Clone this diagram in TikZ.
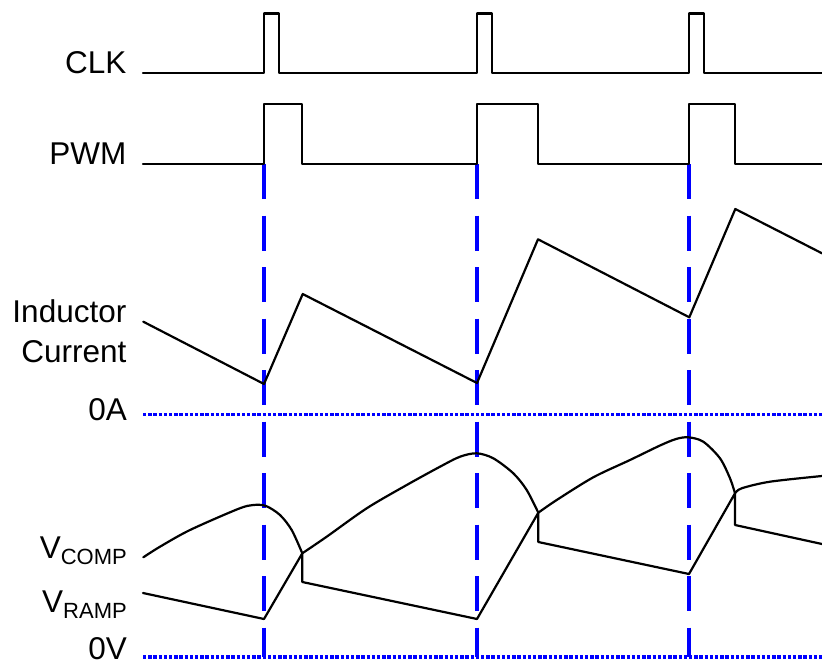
\documentclass[tikz,border=0pt]{standalone}
\usepackage{fontspec}
\setmainfont{Liberation Sans}
\definecolor{pblue}{RGB}{0,0,255}
\tikzset{
  lbl/.style={anchor=base east, inner sep=0pt, font=\fontsize{31.5}{31.5}\selectfont},
  wave/.style={line width=2.2pt, black, line join=round, line cap=round},
  marker/.style={line width=3.4pt, pblue, dash pattern=on 35pt off 16.5pt},
  zeroline/.style={line width=3.4pt, pblue, dash pattern=on 3.4pt off 1.8pt}
}
\newcommand{\subtxt}[1]{\raisebox{-6pt}{\fontsize{22}{22}\selectfont #1}}
\begin{document}
\begin{tikzpicture}[x=1pt,y=-1pt]
\useasboundingbox (0,0) rectangle (822,664);
% labels
\node[lbl] (clk) at (126.5,73) {CLK};
\node[lbl] (pwm) at (126.5,164) {PWM};
\node[lbl] (ind) at (126.5,322) {Inductor};
\node[lbl] (cur) at (126.5,362) {Current};
\node[lbl] (za) at (127,420) {0A};
\node[lbl] (vc) at (127,558) {V\subtxt{COMP}};
\node[lbl] (vr) at (127,612) {V\subtxt{RAMP}};
\node[lbl] (zv) at (127,659.5) {0V};
% blue markers
\foreach \x in {264,477,689} \draw[marker] (\x,164) -- (\x,657);
\draw[zeroline] (143,414.7) -- (822,414.7);
\draw[zeroline] (143,657) -- (822,657);
% CLK
\draw[wave] (143,73) -| (264,13.5) -| (279,73) -| (477,13.5) -| (492,73) -| (689,13.5) -| (704,73) -- (822,73);
% PWM
\draw[wave] (143,164) -| (264,104) -| (302,164) -| (477,104) -| (537.7,164) -| (689,104) -| (735,164) -- (822,164);
% Inductor current
\draw[wave] (143.3,321.7) -- (264,384) -- (302.7,294) -- (477,383) -- (538,239.3) -- (689.3,317.3) -- (735.3,209) -- (822,253.3);
% VRAMP
\draw[wave] (143,593) -- (264,619) -- (302.3,553.3) -- (302.3,582) -- (477,619) -- (538.3,512.7) -- (538.3,542) -- (689,574) -- (735,493.3) -- (735,525) -- (822,544);
% VCOMP
\draw[wave] plot[smooth, tension=0.5] coordinates {(143.3,557.3) (160,546.7) (190,530) (238,509) (253.3,505) (266,506) (280,515) (291.7,530) (302.3,553.3)};
\draw[wave] plot[smooth, tension=0.5] coordinates {(302.3,553.3) (326.7,536.7) (366.7,508.3) (406.7,485) (440,466.7) (460,456.7) (476.7,453.3) (493.3,458.3) (513.3,473.3) (526.7,490) (538.3,512.7)};
\draw[wave] plot[smooth, tension=0.5] coordinates {(538.3,512.7) (556.7,500) (593.3,477.3) (630,460) (660,445.5) (676,439) (688.3,437.3) (703.3,441.7) (720,458.3) (730,478.3) (735,493.3)};
\draw[wave] plot[smooth, tension=0.5] coordinates {(735,493.3) (741.7,488.3) (770,481.7) (822,476)};
\end{tikzpicture}
\end{document}
